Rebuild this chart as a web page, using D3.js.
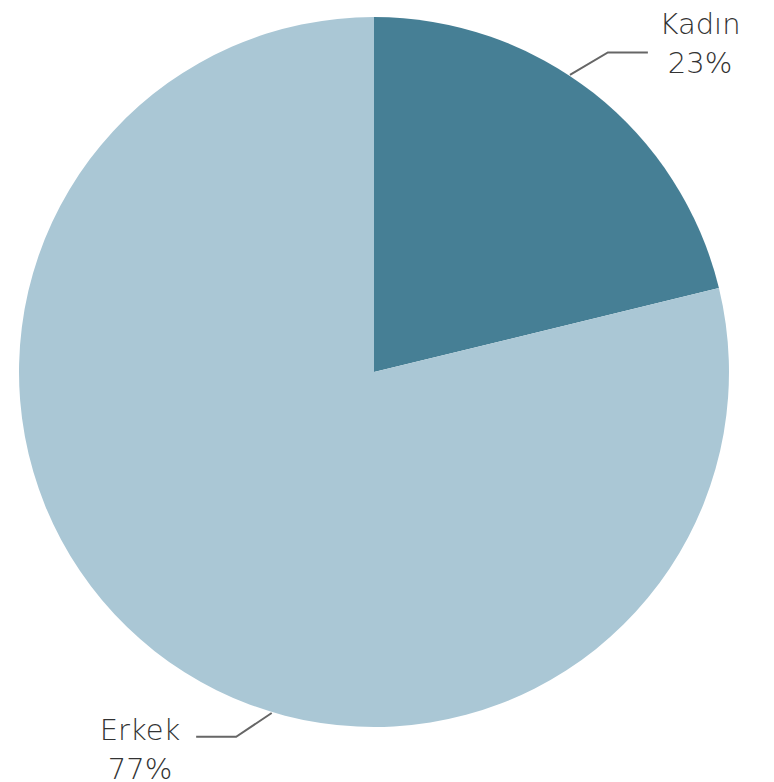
<!DOCTYPE html>
<html>
<head>
<meta charset="utf-8">
<script src="https://cdn.jsdelivr.net/npm/d3@7"></script>
<style>
  body { margin: 0; background: #fff; }
  svg text { font-family: "DejaVu Sans", "Lato", sans-serif; font-weight: 200; fill: #333; }
</style>
</head>
<body>
<div id="chart"></div>
<script>
// slice shares as drawn, and the label texts as printed
const categories = ["Kadın", "Erkek"];
const slice_values = [21.2, 78.8];
const label_texts = ["23%", "77%"];
const slice_colors = ["#467f95", "#aac7d5"];

const width = 774;
const height = 782;
const cx = 374, cy = 372;
const radius = 355;

const data = categories.map(function(c, i) {
	return {name: c, value: slice_values[i], label: label_texts[i], color: slice_colors[i]};
});

let svg = d3.select("#chart").append("svg")
	.attr("width", width)
	.attr("height", height);

let g = svg.append("g")
	.attr("transform", "translate(" + cx + "," + cy + ")");

let pie = d3.pie()
	.sort(null)
	.value(function(d) { return d.value; });

let arc = d3.arc()
	.innerRadius(0)
	.outerRadius(radius);

let arcs = pie(data);

g.selectAll("path.slice")
	.data(arcs)
	.enter().append("path")
	.attr("class", "slice")
	.attr("d", arc)
	.attr("fill", function(d) { return d.data.color; });

// leader lines: start angle on the rim, elbow angle, then horizontal run
const leader = [
	{a0: 33.4, a1: 36.2, r1: 396, run: 40, tx: 700, ty: 34},
	{a0: 196.7, a1: 200.7, r1: 390, run: -40, tx: 140, ty: 740}
];

function polar(angDeg, r) {
	let a = angDeg * Math.PI / 180;
	return [r * Math.sin(a), -r * Math.cos(a)];
}

arcs.forEach(function(d, i) {
	let l = leader[i];
	let p0 = polar(l.a0, radius + 1);
	let p1 = polar(l.a1, l.r1);
	let p2 = [p1[0] + l.run, p1[1]];
	g.append("polyline")
		.attr("points", [p0, p1, p2].map(function(p) { return p.join(","); }).join(" "))
		.attr("fill", "none")
		.attr("stroke", "#666")
		.attr("stroke-width", 2);

	let t = svg.append("text")
		.attr("text-anchor", "middle")
		.attr("font-size", 29);
	t.append("tspan")
		.attr("x", l.tx)
		.attr("y", l.ty)
		.text(d.data.name);
	t.append("tspan")
		.attr("x", l.tx)
		.attr("y", l.ty + 39)
		.text(d.data.label);
});
</script>
</body>
</html>
